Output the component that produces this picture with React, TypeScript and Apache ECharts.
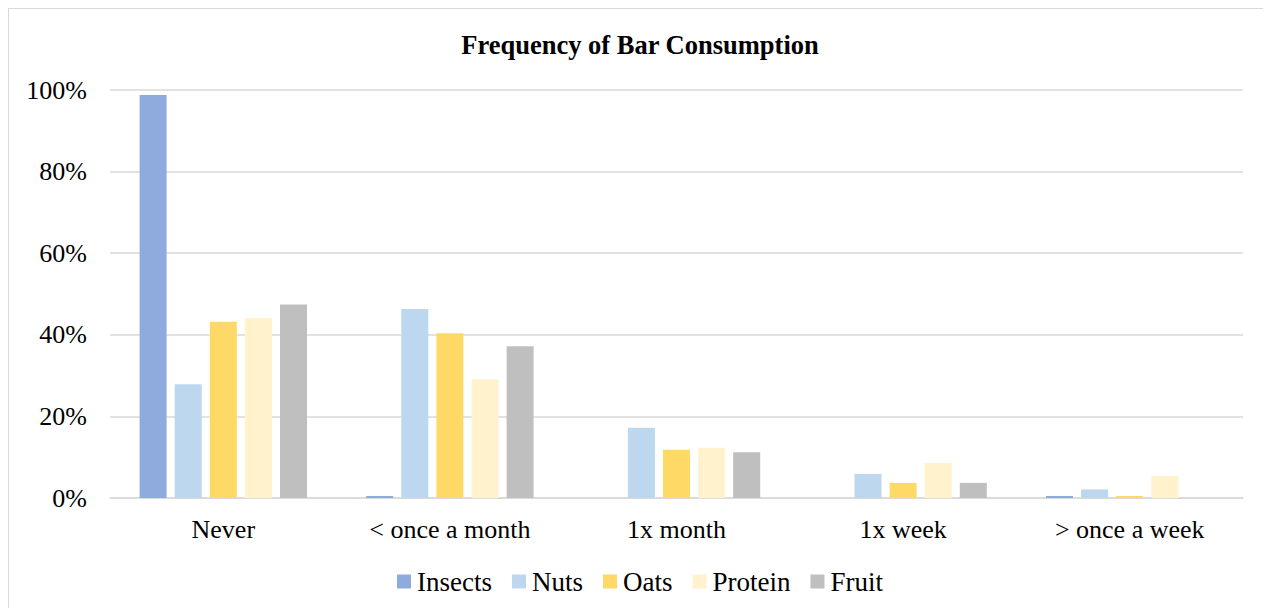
import React, { useEffect, useRef } from "react";
import * as echarts from "echarts";

const categories = ["Never", "< once a month", "1x month", "1x week", "> once a week"];
const seriesNames = ["Insects", "Nuts", "Oats", "Protein", "Fruit"];
const insects = [98.8, 0.5, 0, 0, 0.5];
const nuts = [27.9, 46.3, 17.2, 5.9, 2.1];
const oats = [43.2, 40.4, 11.8, 3.7, 0.5];
const protein = [44.1, 29.1, 12.3, 8.6, 5.4];
const fruit = [47.4, 37.2, 11.2, 3.7, 0];
const colors = ["#8FAADC", "#BDD7EE", "#FFD966", "#FFF2CC", "#BFBFBF"];
const yTicks = [0, 20, 40, 60, 80, 100];

const FONT = '"Liberation Serif", "Times New Roman", serif';

export default function App() {
  const ref = useRef<HTMLDivElement>(null);
  useEffect(() => {
    if (!ref.current) return;
    const chart = echarts.init(ref.current, null, { renderer: "svg" });
    const data = [insects, nuts, oats, protein, fruit];
    chart.setOption({
      animation: false,
      title: {
        text: "Frequency of Bar Consumption",
        left: "center",
        top: 17,
        textStyle: { fontFamily: FONT, fontSize: 26.5, fontWeight: "bold", color: "#000" },
      },
      legend: {
        bottom: 8,
        left: "center",
        itemWidth: 14,
        itemHeight: 14,
        itemGap: 20,
        icon: "rect",
        textStyle: { fontFamily: FONT, fontSize: 27, color: "#000", padding: [0, 0, 0, 1] },
        data: seriesNames,
      },
      grid: { left: 101, right: 28, top: 81, bottom: 110 },
      xAxis: {
        type: "category",
        data: categories,
        axisLine: { lineStyle: { color: "#d9d9d9", width: 1.5 } },
        axisTick: { show: false },
        axisLabel: { fontFamily: FONT, fontSize: 26, color: "#000", margin: 18 },
      },
      yAxis: {
        type: "value",
        min: yTicks[0],
        max: yTicks[yTicks.length - 1],
        interval: 20,
        axisLine: { show: false },
        axisTick: { show: false },
        splitLine: { lineStyle: { color: "#d9d9d9", width: 1.5 } },
        axisLabel: { fontFamily: FONT, fontSize: 26, color: "#000", margin: 23, formatter: "{value}%" },
      },
      series: seriesNames.map((name, i) => ({
        name,
        type: "bar",
        data: data[i],
        barWidth: 27,
        barGap: "30%",
        itemStyle: { color: colors[i] },
      })),
    });
    return () => chart.dispose();
  }, []);
  return (
    <div
      style={{
        width: 1263,
        height: 600,
        boxSizing: "border-box",
        borderTop: "1px solid #d9d9d9",
        borderLeft: "1px solid #d9d9d9",
        background: "#fff",
      }}
    >
      <div ref={ref} style={{ width: 1262, height: 599 }} />
    </div>
  );
}
